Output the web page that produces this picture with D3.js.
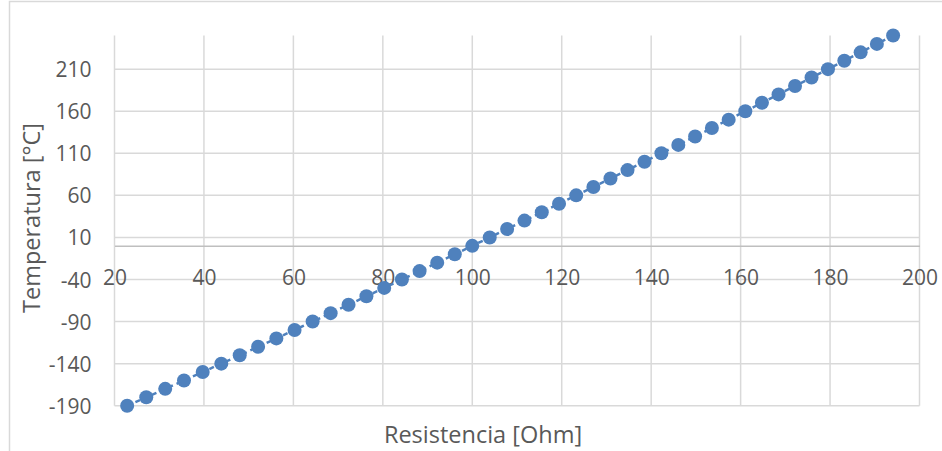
<!DOCTYPE html>
<html>
<head>
<meta charset="utf-8">
<script src="https://cdn.jsdelivr.net/npm/d3@7"></script>
<style>
  html, body { margin: 0; padding: 0; background: #fff; }
  svg { display: block; }
  text { font-family: "Open Sans", "Liberation Sans", sans-serif; fill: #595959; }
</style>
</head>
<body>
<div id="chart"></div>
<script>
// Pt100 calibration points: resistance (Ohm) against temperature (°C)
const resistance = [
  22.83, 27.10, 31.34, 35.54, 39.72, 43.88, 48.00, 52.11, 56.19, 60.26,
  64.30, 68.33, 72.33, 76.33, 80.31, 84.27, 88.22, 92.16, 96.09, 100.00,
  103.90, 107.79, 111.67, 115.54, 119.40, 123.24, 127.08, 130.90, 134.71, 138.51,
  142.29, 146.07, 149.83, 153.58, 157.33, 161.05, 164.77, 168.48, 172.17, 175.86,
  179.53, 183.19, 186.84, 190.47, 194.10
];
const temperature = [
  -190, -180, -170, -160, -150, -140, -130, -120, -110, -100,
  -90, -80, -70, -60, -50, -40, -30, -20, -10, 0,
  10, 20, 30, 40, 50, 60, 70, 80, 90, 100,
  110, 120, 130, 140, 150, 160, 170, 180, 190, 200,
  210, 220, 230, 240, 250
];
const xTicks = [20, 40, 60, 80, 100, 120, 140, 160, 180, 200];
const yTicks = [-190, -140, -90, -40, 10, 60, 110, 160, 210];
const xDomain = [20, 200];
const yDomain = [-190, 250];
const xTitle = "Resistencia [Ohm]";
const yTitle = "Temperatura [°C]";

const W = 942, H = 451;
const plot = { left: 114.5, right: 919.5, top: 35.5, bottom: 405.7 };
const plain = d => String(d);   // ASCII hyphen for negatives

const svg = d3.select("#chart").append("svg")
  .attr("width", W).attr("height", H);

svg.append("rect").attr("width", W).attr("height", H).attr("fill", "#fff");

// chart frame (top and left edges)
svg.append("path")
  .attr("d", `M9.5,${H} V1.5 H${W}`)
  .attr("fill", "none").attr("stroke", "#d9d9d9").attr("stroke-width", 1.5);

const x = d3.scaleLinear().domain(xDomain).range([plot.left, plot.right]);
const y = d3.scaleLinear().domain(yDomain).range([plot.bottom, plot.top]);

// gridlines
const grid = svg.append("g").attr("stroke", "#d9d9d9").attr("stroke-width", 1.5);
grid.selectAll(".vg").data(xTicks).join("line")
  .attr("x1", d => x(d)).attr("x2", d => x(d))
  .attr("y1", y(yDomain[1])).attr("y2", y(yDomain[0]));
grid.selectAll(".hg").data(yTicks).join("line")
  .attr("x1", x(xDomain[0])).attr("x2", x(xDomain[1]))
  .attr("y1", d => y(d)).attr("y2", d => y(d));

// horizontal axis crossing at zero
const xAxis = d3.axisBottom(x).tickValues(xTicks).tickSize(0).tickPadding(0)
  .tickFormat(plain);
const gx = svg.append("g").attr("transform", `translate(0,${y(0)})`).call(xAxis);
gx.select(".domain").attr("stroke", "#bfbfbf").attr("stroke-width", 1.5);
gx.selectAll("text").attr("y", 39).attr("dy", null)
  .style("font-size", "21px").style("fill", "#595959");

// vertical axis labels
const yAxis = d3.axisLeft(y).tickValues(yTicks).tickSize(0).tickPadding(0)
  .tickFormat(plain);
const gy = svg.append("g").attr("transform", `translate(${plot.left},0)`).call(yAxis);
gy.select(".domain").remove();
gy.selectAll("text").attr("x", -23).attr("dy", "0.36em")
  .style("font-size", "21px").style("fill", "#595959");

// series: dashed connector plus round markers
const pts = resistance.map((r, i) => ({ r, t: temperature[i] }));
svg.append("path")
  .datum(pts)
  .attr("fill", "none").attr("stroke", "#4f81bd").attr("stroke-width", 2.5)
  .attr("stroke-dasharray", "5,4")
  .attr("d", d3.line().x(d => x(d.r)).y(d => y(d.t)));
svg.append("g").selectAll("circle").data(pts).join("circle")
  .attr("cx", d => x(d.r)).attr("cy", d => y(d.t)).attr("r", 7)
  .attr("fill", "#4f81bd");

// axis titles
svg.append("text")
  .attr("x", 483).attr("y", 443)
  .attr("text-anchor", "middle").style("font-size", "23.5px")
  .text(xTitle);
svg.append("text")
  .attr("transform", `translate(40,218) rotate(-90)`)
  .attr("text-anchor", "middle").style("font-size", "23.5px")
  .text(yTitle);
</script>
</body>
</html>
